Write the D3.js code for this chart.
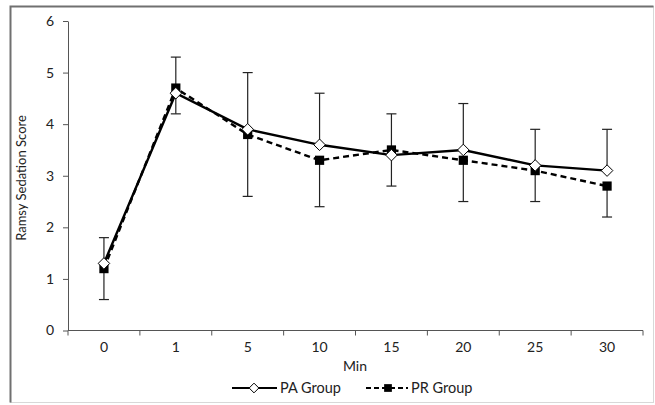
<!DOCTYPE html>
<html>
<head>
    <title>Ramsy Sedation Score</title>
    <script src="https://d3js.org/d3.v7.min.js"></script>
    <style>
        body { margin: 0; background: white; }
        text { font-family: Lato, "Open Sans", sans-serif; fill: #222; }
    </style>
</head>
<body>
    <div id="chart"></div>
    <script>
        // data
        const minutes = ["0", "1", "5", "10", "15", "20", "25", "30"];
        const paValues = [1.3, 4.6, 3.9, 3.6, 3.4, 3.5, 3.2, 3.1];
        const prValues = [1.2, 4.7, 3.8, 3.3, 3.5, 3.3, 3.1, 2.8];
        const paSd = [0.5, 0.7, 1.1, 1.0, 0.8, 0.9, 0.7, 0.8];   // drawn upward
        const prSd = [0.6, 0.5, 1.2, 0.9, 0.7, 0.8, 0.6, 0.6];   // drawn downward
        const yTicks = [0, 1, 2, 3, 4, 5, 6];

        const width = 655, height = 405;

        const svg = d3.select("#chart")
            .append("svg")
            .attr("width", width)
            .attr("height", height);

        // outer frame
        svg.append("rect")
            .attr("x", 10.5).attr("y", 6.5)
            .attr("width", 643).attr("height", 396)
            .attr("fill", "white")
            .attr("stroke", "#d8d8d8").attr("stroke-width", 1);
        svg.append("path")
            .attr("d", "M10.5,402.5 V6.5 H653.5")
            .attr("fill", "none")
            .attr("stroke", "#707070").attr("stroke-width", 2);

        const x = d3.scaleBand()
            .domain(minutes)
            .range([68, 643]);

        const y = d3.scaleLinear()
            .domain([0, 6])
            .range([330.5, 21]);

        // y axis
        const yAxis = svg.append("g")
            .attr("transform", "translate(68,0)")
            .call(d3.axisLeft(y).tickValues(yTicks).tickFormat(d3.format("d"))
                .tickSize(5).tickSizeOuter(0).tickPadding(9));
        yAxis.select(".domain").attr("stroke", "#555");
        yAxis.selectAll(".tick line").attr("stroke", "#555");
        yAxis.selectAll("text").style("font-size", "14px").attr("fill", "#222");

        // x axis, ticks at the band edges
        const xAxis = svg.append("g")
            .attr("transform", "translate(0,330.5)");
        xAxis.append("line")
            .attr("x1", 68).attr("x2", 643)
            .attr("stroke", "#555");
        const edges = minutes.map(m => x(m)).concat([x.range()[1]]);
        xAxis.selectAll(".xtick")
            .data(edges)
            .join("line")
            .attr("class", "xtick")
            .attr("x1", d => d).attr("x2", d => d)
            .attr("y1", 0).attr("y2", 5)
            .attr("stroke", "#555");
        xAxis.selectAll(".xlabel")
            .data(minutes)
            .join("text")
            .attr("class", "xlabel")
            .attr("x", d => x(d) + x.bandwidth() / 2)
            .attr("y", 21.5)
            .attr("text-anchor", "middle")
            .style("font-size", "14px")
            .text(d => d);

        // axis titles
        svg.append("text")
            .attr("x", 355)
            .attr("y", 370.5)
            .attr("text-anchor", "middle")
            .style("font-size", "14px")
            .text("Min");

        svg.append("text")
            .attr("transform", "translate(26,178) rotate(-90)")
            .attr("text-anchor", "middle")
            .style("font-size", "13px")
            .text("Ramsy Sedation Score");

        const cx = m => x(m) + x.bandwidth() / 2;

        // error bars
        const capW = 5;
        function errorBars(values, sd, dir, cls) {
            const g = svg.append("g").attr("class", cls);
            minutes.forEach((m, i) => {
                const end = values[i] + dir * sd[i];
                g.append("line")
                    .attr("x1", cx(m)).attr("x2", cx(m))
                    .attr("y1", y(values[i])).attr("y2", y(end))
                    .attr("stroke", "#222").attr("stroke-width", 1.2);
                g.append("line")
                    .attr("x1", cx(m) - capW).attr("x2", cx(m) + capW)
                    .attr("y1", y(end)).attr("y2", y(end))
                    .attr("stroke", "#222").attr("stroke-width", 1.2);
            });
        }
        errorBars(paValues, paSd, 1, "pa-err");
        errorBars(prValues, prSd, -1, "pr-err");

        const line = d3.line()
            .x((d, i) => cx(minutes[i]))
            .y(d => y(d));

        // PR group: dashed with squares
        svg.append("path")
            .datum(prValues)
            .attr("d", line)
            .attr("fill", "none")
            .attr("stroke", "#000")
            .attr("stroke-width", 2.4)
            .attr("stroke-dasharray", "6,4");

        // PA group: solid with diamonds
        svg.append("path")
            .datum(paValues)
            .attr("d", line)
            .attr("fill", "none")
            .attr("stroke", "#000")
            .attr("stroke-width", 2.4);

        const diamond = d3.symbol().type(d3.symbolDiamond2).size(85);
        const square = d3.symbol().type(d3.symbolSquare).size(85);

        svg.selectAll(".pr-pt")
            .data(prValues)
            .join("path")
            .attr("class", "pr-pt")
            .attr("transform", (d, i) => `translate(${cx(minutes[i])},${y(d)})`)
            .attr("d", square)
            .attr("fill", "#000");

        svg.selectAll(".pa-pt")
            .data(paValues)
            .join("path")
            .attr("class", "pa-pt")
            .attr("transform", (d, i) => `translate(${cx(minutes[i])},${y(d)})`)
            .attr("d", diamond)
            .attr("fill", "white")
            .attr("stroke", "#000")
            .attr("stroke-width", 1);

        // legend
        const legY = 388;
        svg.append("line")
            .attr("x1", 232).attr("x2", 277).attr("y1", legY).attr("y2", legY)
            .attr("stroke", "#000").attr("stroke-width", 2);
        svg.append("path")
            .attr("transform", `translate(254,${legY})`)
            .attr("d", d3.symbol().type(d3.symbolDiamond2).size(60))
            .attr("fill", "white").attr("stroke", "#000");
        svg.append("text")
            .attr("x", 280).attr("y", legY + 5)
            .style("font-size", "14.5px")
            .text("PA Group");

        svg.append("line")
            .attr("x1", 366).attr("x2", 408).attr("y1", legY).attr("y2", legY)
            .attr("stroke", "#000").attr("stroke-width", 2)
            .attr("stroke-dasharray", "5,3");
        svg.append("path")
            .attr("transform", `translate(388,${legY})`)
            .attr("d", d3.symbol().type(d3.symbolSquare).size(60))
            .attr("fill", "#000");
        svg.append("text")
            .attr("x", 411).attr("y", legY + 5)
            .style("font-size", "14.5px")
            .text("PR Group");
    </script>
</body>
</html>
